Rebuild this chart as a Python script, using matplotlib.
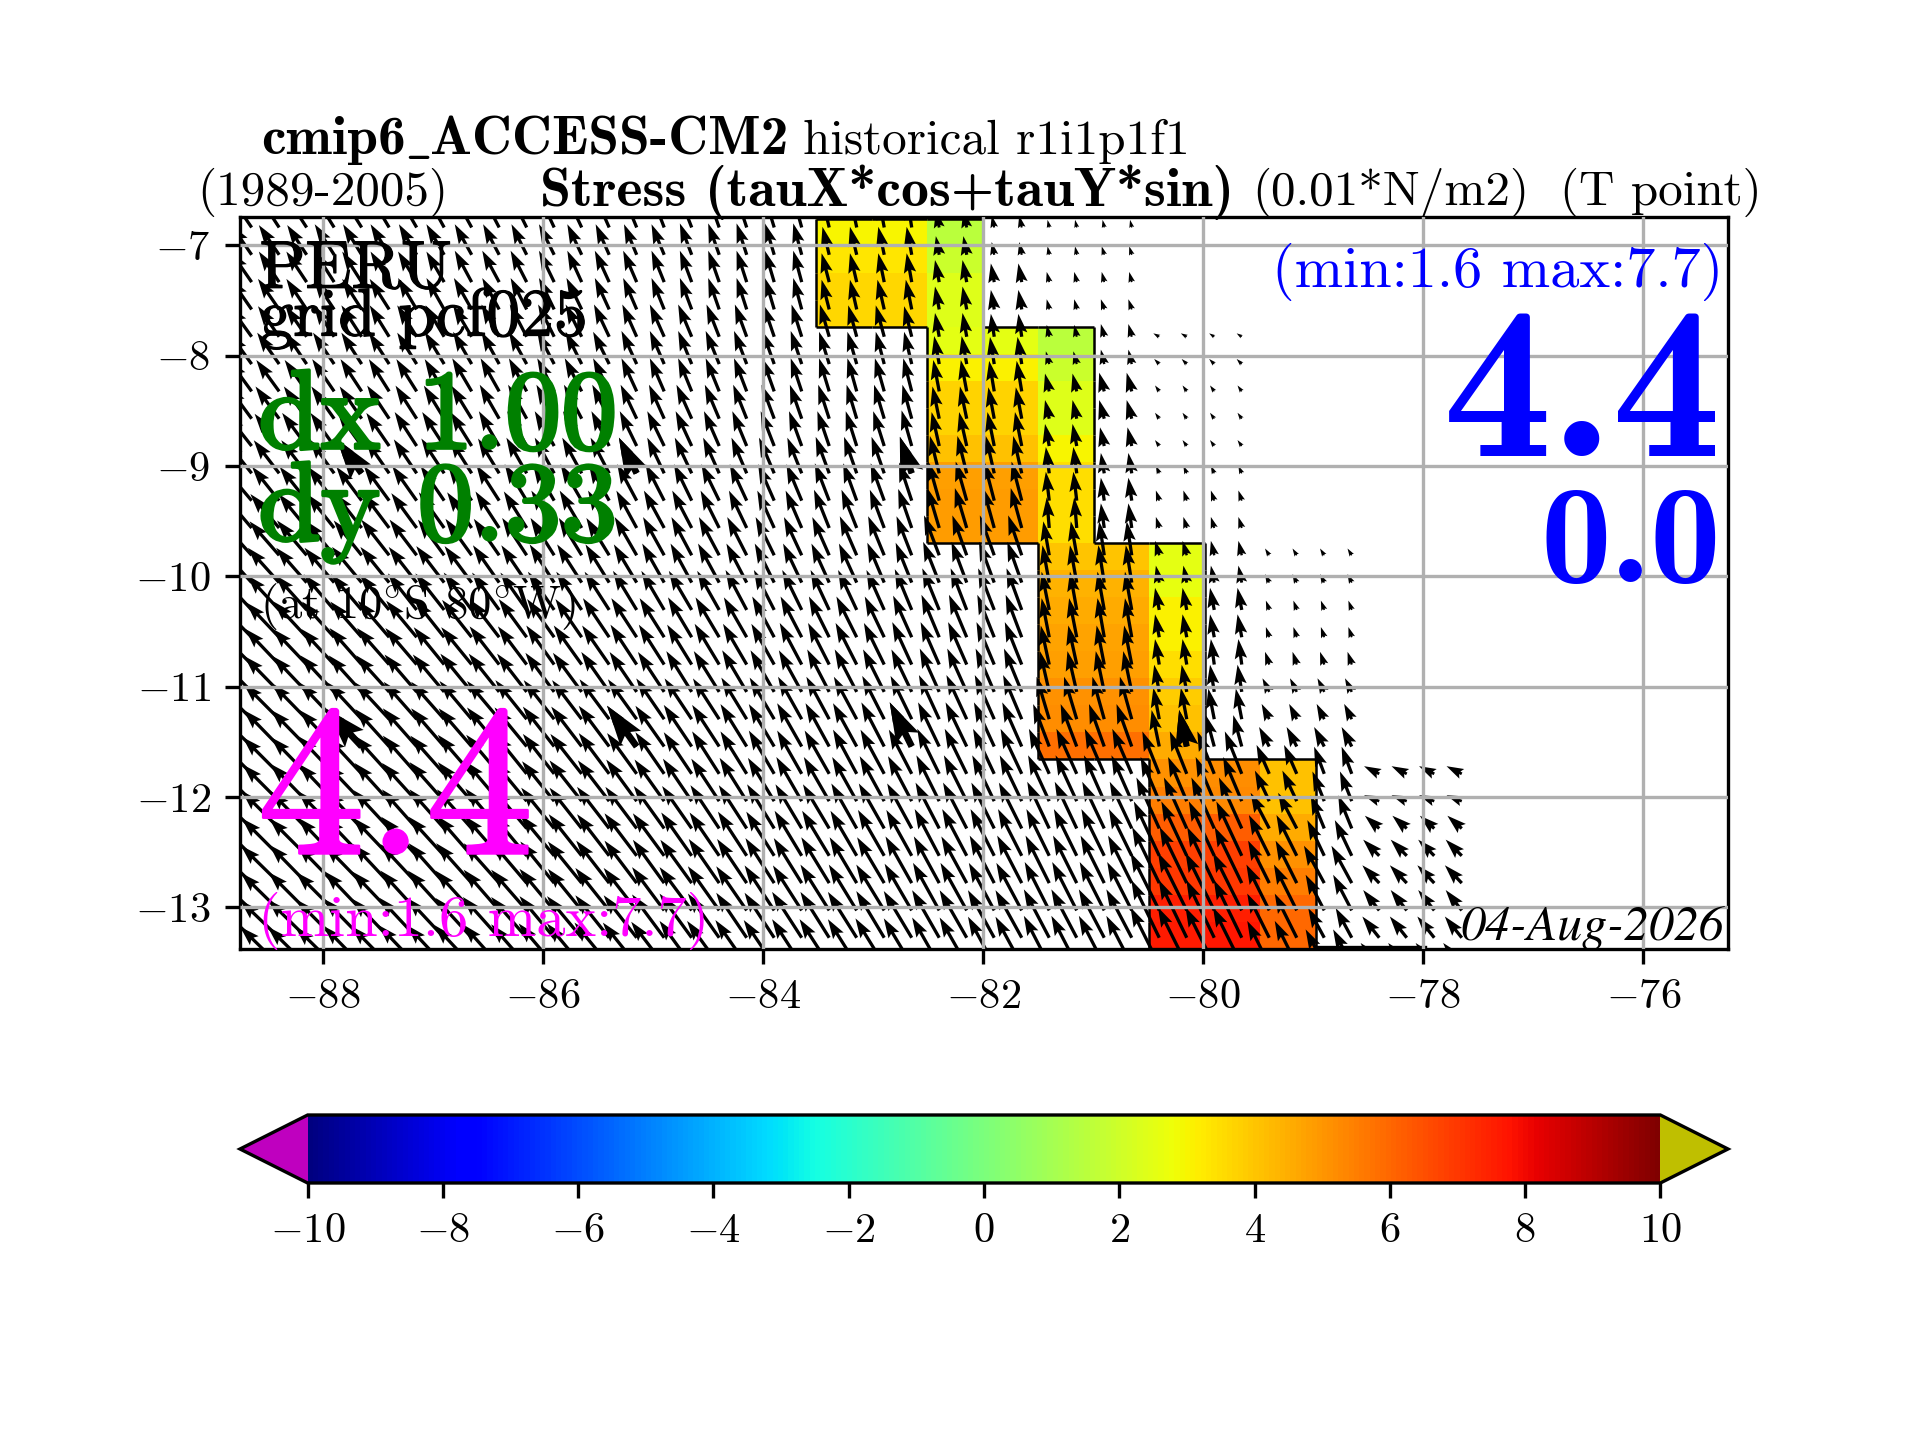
import numpy as np
import matplotlib
matplotlib.use('Agg')
import matplotlib.pyplot as plt
import matplotlib.patheffects as pe
from matplotlib.collections import LineCollection

plt.rcParams['font.family'] = 'cmr10'
plt.rcParams['mathtext.fontset'] = 'cm'
plt.rcParams['axes.formatter.use_mathtext'] = True

xtick_vals = [-88, -86, -84, -82, -80, -78, -76]
xtick_labels = ['$-88$', '$-86$', '$-84$', '$-82$', '$-80$', '$-78$', '$-76$']
ytick_vals = [-13, -12, -11, -10, -9, -8, -7]
ytick_labels = ['$-13$', '$-12$', '$-11$', '$-10$', '$-9$', '$-8$', '$-7$']
cbar_vals = [-10, -8, -6, -4, -2, 0, 2, 4, 6, 8, 10]
cbar_labels = ['$-10$', '$-8$', '$-6$', '$-4$', '$-2$', '$0$', '$2$', '$4$', '$6$', '$8$', '$10$']

# stress values on the coastal band, one list per 0.5 degree column, north to south
n = np.nan
stress_col0 = [3.0, 3.3, 3.6, 3.6] + [n] * 23
stress_col1 = [3.0, 3.3, 3.6, 3.6] + [n] * 23
stress_col2 = [1.5, 1.9, 2.4, 2.4, 2.5, 3.1, 3.7, 3.7, 4.1, 4.8, 4.9, 4.9] + [n] * 15
stress_col3 = [n] * 4 + [2.5, 3.1, 3.7, 3.7, 4.1, 4.8, 4.9, 4.9] + [n] * 15
stress_col4 = [n] * 4 + [1.5, 1.9, 2.4, 2.4, 3.0, 3.5, 3.5, 3.5, 4.0, 4.4, 4.6, 4.7, 4.8, 5.1, 5.2, 5.8] + [n] * 7
stress_col5 = [n] * 12 + [4.0, 4.4, 4.6, 4.7, 4.8, 5.1, 5.2, 5.8] + [n] * 7
stress_col6 = [n] * 12 + [2.5, 2.6, 3.1, 3.1, 3.5, 3.9, 4.1, 4.6, 5.1, 5.5, 6.2, 6.8, 7.0, 7.5, 7.6]
stress_col7 = [n] * 20 + [5.2, 5.3, 6.2, 6.8, 7.0, 7.5, 7.7]
stress_col8 = [n] * 20 + [4.1, 4.1, 4.6, 5.1, 5.5, 6.0, 6.0]

# wind stress components in tenths of a unit, one list per row, west to east
tau_x = [
 [-24,-23,-23,-22,-22,-21,-21,-20,-20,-19,-18,-17,-17,-16,-15,-14,-14,-13,-12,-11,-10,-8,-7,-6,-5,-4,-4,-3,-3,-2,-2,-2,-2],
 [-24,-24,-23,-23,-22,-22,-21,-21,-20,-19,-18,-18,-17,-16,-15,-15,-14,-13,-12,-11,-10,-8,-8,-7,-6,-4,-4,-3,-3,-2,-2,-3,-3],
 [-25,-24,-24,-23,-23,-22,-22,-21,-20,-20,-19,-18,-17,-17,-16,-15,-14,-13,-12,-11,-10,-9,-8,-7,-6,-5,-5,-4,-4,-3,-3,-3,-3],
 [-25,-25,-24,-24,-23,-23,-22,-21,-21,-20,-19,-18,-18,-17,-16,-15,-14,-13,-12,-11,-10,-9,-8,-8,-7,-5,-5,-4,-4,-3,-3,-4,-4],
 [-26,-25,-25,-24,-24,-23,-23,-22,-22,-21,-20,-19,-19,-18,-17,-17,-16,-15,-14,-13,-12,-11,-10,-10,-9,-5,-5,-4,-4,-3,-3,-4,-4,-7,-7,-6,-6],
 [-26,-26,-25,-25,-24,-24,-23,-23,-22,-21,-21,-20,-19,-19,-18,-17,-16,-16,-15,-14,-13,-12,-11,-10,-9,-6,-6,-5,-5,-4,-4,-4,-4,-6,-6,-6,-6],
 [-27,-27,-26,-26,-25,-24,-24,-23,-23,-22,-21,-20,-20,-19,-18,-17,-16,-16,-15,-14,-13,-12,-11,-11,-10,-7,-7,-6,-6,-5,-5,-6,-6,-5,-5,-5,-5],
 [-28,-28,-27,-27,-26,-26,-25,-24,-24,-23,-22,-21,-21,-20,-19,-18,-18,-17,-16,-15,-14,-13,-12,-12,-11,-8,-8,-7,-7,-5,-5,-6,-6,-5,-5,-5,-5],
 [-30,-29,-29,-28,-28,-27,-26,-26,-25,-24,-23,-23,-22,-21,-20,-20,-19,-18,-17,-16,-15,-14,-13,-13,-12,-9,-9,-8,-8,-5,-5,-5,-5,-5,-5,-5,-5],
 [-31,-30,-30,-29,-29,-28,-27,-27,-26,-25,-24,-23,-23,-22,-21,-20,-20,-19,-18,-18,-17,-16,-15,-15,-14,-11,-11,-10,-10,-4,-4,-4,-4,-4,-4,-4,-4],
 [-33,-32,-32,-31,-30,-30,-29,-28,-28,-27,-26,-25,-25,-24,-23,-22,-21,-21,-20,-19,-18,-17,-16,-16,-15,-13,-13,-12,-12,-4,-4,-4,-4,-4,-4,-4,-4],
 [-34,-34,-33,-32,-32,-31,-30,-30,-29,-28,-27,-27,-26,-25,-24,-24,-23,-22,-21,-20,-19,-18,-18,-17,-16,-14,-14,-13,-13,-3,-3,-4,-4,-4,-4,-4,-4],
 [-36,-35,-35,-34,-33,-33,-32,-31,-31,-30,-29,-28,-27,-27,-26,-25,-24,-24,-23,-22,-21,-20,-20,-19,-18,-18,-17,-17,-16,-7,-7,-6,-6,-5,-5,-4,-4,-5,-5,-5,-5],
 [-37,-37,-36,-35,-35,-34,-33,-33,-32,-31,-30,-29,-29,-28,-27,-26,-25,-25,-24,-23,-22,-21,-21,-20,-19,-19,-18,-18,-17,-8,-8,-7,-7,-4,-4,-4,-4,-5,-5,-5,-5],
 [-38,-38,-37,-36,-36,-35,-34,-34,-33,-32,-31,-31,-30,-29,-28,-27,-27,-26,-25,-24,-23,-22,-22,-21,-20,-20,-19,-19,-18,-9,-8,-8,-8,-5,-5,-5,-5,-4,-4,-4,-4],
 [-40,-39,-39,-38,-37,-37,-36,-35,-35,-34,-33,-32,-31,-31,-30,-29,-28,-28,-27,-26,-25,-24,-24,-23,-22,-21,-21,-20,-19,-9,-9,-8,-8,-5,-5,-5,-5,-4,-4,-4,-4],
 [-41,-40,-40,-39,-38,-38,-37,-36,-36,-35,-34,-33,-33,-32,-31,-30,-29,-29,-28,-27,-26,-25,-25,-24,-23,-22,-22,-21,-20,-10,-10,-9,-9,-5,-5,-4,-4,-5,-5,-5,-5],
 [-41,-41,-40,-40,-39,-39,-38,-37,-37,-36,-35,-34,-34,-33,-32,-31,-30,-30,-29,-28,-27,-26,-26,-25,-24,-23,-23,-22,-21,-11,-11,-10,-10,-6,-6,-5,-5,-8,-8,-8,-8],
 [-42,-42,-41,-41,-40,-40,-39,-39,-38,-38,-37,-36,-35,-35,-34,-33,-32,-31,-30,-29,-28,-27,-27,-26,-25,-24,-24,-23,-22,-15,-15,-14,-14,-7,-7,-7,-7,-9,-9,-9,-9],
 [-43,-42,-42,-41,-41,-40,-40,-39,-39,-38,-38,-37,-36,-36,-35,-34,-33,-32,-31,-30,-29,-28,-28,-27,-26,-25,-25,-24,-23,-19,-19,-18,-18,-9,-9,-10,-10,-12,-12,-12,-12],
 [-43,-43,-42,-42,-41,-41,-40,-40,-40,-39,-38,-37,-37,-36,-35,-34,-33,-32,-31,-30,-29,-29,-28,-28,-27,-26,-26,-25,-25,-24,-24,-23,-23,-20,-20,-20,-20,-15,-15,-12,-12,-18,-18,-18,-18],
 [-43,-43,-43,-42,-42,-41,-41,-41,-40,-40,-39,-38,-38,-37,-36,-35,-34,-33,-32,-31,-30,-30,-29,-29,-28,-27,-27,-26,-26,-25,-25,-24,-24,-22,-22,-22,-22,-17,-17,-14,-14,-18,-18,-18,-18],
 [-44,-44,-43,-43,-42,-42,-41,-41,-41,-40,-40,-39,-38,-38,-37,-36,-35,-34,-33,-32,-31,-31,-30,-30,-29,-28,-28,-27,-27,-26,-26,-26,-26,-27,-27,-27,-27,-22,-22,-16,-16,-17,-17,-17,-17],
 [-44,-44,-44,-43,-43,-43,-42,-42,-41,-41,-40,-40,-39,-38,-38,-37,-36,-35,-34,-33,-32,-32,-31,-31,-30,-29,-29,-28,-28,-27,-27,-27,-27,-30,-30,-30,-30,-24,-24,-20,-20,-19,-19,-19,-19],
 [-45,-45,-44,-44,-44,-43,-43,-42,-42,-42,-41,-40,-40,-39,-38,-37,-37,-36,-35,-34,-33,-33,-32,-32,-31,-30,-30,-29,-29,-28,-28,-28,-28,-32,-32,-32,-32,-25,-25,-24,-24,-20,-20,-20,-20],
 [-46,-45,-45,-45,-44,-44,-43,-43,-43,-42,-42,-41,-40,-40,-39,-38,-38,-37,-36,-35,-34,-34,-33,-33,-32,-31,-31,-30,-30,-29,-29,-29,-29,-34,-34,-34,-34,-27,-27,-22,-22,-19,-19,-19,-19],
 [-46,-46,-46,-45,-45,-44,-44,-44,-43,-43,-42,-41,-41,-40,-39,-38,-38,-37,-36,-35,-35,-34,-34,-33,-33,-32,-32,-31,-31,-30,-30,-30,-30,-33,-33,-33,-33,-26,-26,-19,-19,-20,-20,-20,-20],
 [-47,-46,-46,-46,-45,-45,-45,-44,-44,-43,-42,-42,-41,-41,-40,-39,-38,-38,-37,-36,-35,-35,-34,-34,-33,-32,-32,-31,-31,-30,-30,-30,-30,-34,-34,-34,-34,-26,-26,-22,-22,-22,-22,-22,-22],
]
tau_y = [
 [35,35,35,35,35,35,36,36,36,36,36,36,36,36,36,36,36,36,36,36,36,33,33,32,32,20,20,14,14,9,9,9,9],
 [35,35,35,36,36,36,36,36,36,36,36,36,36,36,36,36,37,37,37,37,37,33,33,33,33,22,22,15,15,10,10,10,10],
 [36,36,36,36,36,36,36,36,37,37,37,37,37,37,37,37,37,37,37,37,37,34,34,34,34,26,26,22,22,12,12,12,12],
 [36,36,36,36,36,36,37,37,37,37,37,37,37,37,37,37,37,37,37,37,37,35,35,35,35,27,27,23,23,12,12,12,12],
 [36,36,36,37,37,37,37,37,37,38,38,38,38,38,38,38,38,38,38,38,38,38,37,37,36,28,28,27,27,14,14,15,15,4,4,4,4],
 [36,37,37,37,37,37,37,38,38,38,38,38,38,38,39,39,39,39,39,39,39,38,38,38,38,33,33,32,32,15,15,17,17,6,6,6,6],
 [37,37,37,38,38,38,38,38,39,39,39,39,39,39,39,39,39,39,39,39,39,39,39,39,39,37,37,36,36,21,21,22,22,7,7,7,7],
 [38,38,38,38,38,39,39,39,39,40,40,40,40,40,40,40,40,40,40,40,40,40,40,40,40,38,38,37,37,22,22,22,22,7,7,7,7],
 [38,38,39,39,39,39,40,40,40,41,41,41,41,41,41,41,41,41,41,41,41,41,41,41,42,40,40,40,40,26,26,22,22,7,7,7,7],
 [39,39,39,40,40,40,40,41,41,41,42,42,42,42,42,42,42,42,42,42,42,43,43,43,43,44,44,44,44,31,31,24,24,9,9,9,9],
 [39,40,40,40,40,41,41,41,42,42,43,43,43,43,43,43,43,43,43,43,43,44,44,44,45,46,46,46,46,34,34,27,27,12,12,12,12],
 [40,40,40,40,41,41,41,42,42,43,43,44,44,44,44,44,44,44,44,44,44,45,45,45,46,47,47,47,47,36,36,29,29,13,13,13,13],
 [40,40,41,41,41,42,42,42,43,43,44,44,44,44,45,45,45,45,45,45,45,45,46,46,46,47,47,47,47,40,40,40,40,17,17,17,17,8,8,8,8],
 [41,41,41,41,42,42,42,43,43,44,44,45,45,45,45,46,46,46,46,46,46,46,46,47,47,48,48,48,48,44,44,44,44,20,20,20,20,10,10,10,10],
 [41,41,41,42,42,42,43,43,44,44,44,45,45,45,46,46,46,46,47,47,47,47,47,47,48,49,49,49,49,45,45,45,45,26,26,26,26,11,11,11,11],
 [41,41,42,42,42,43,43,44,44,44,45,45,45,46,46,46,47,47,47,48,48,48,48,48,49,50,50,50,50,46,46,46,46,27,27,27,27,12,12,12,12],
 [41,42,42,42,43,43,43,44,44,45,45,46,46,46,47,47,47,48,48,48,49,49,49,49,50,50,50,50,50,46,46,46,46,30,30,30,30,15,15,15,15],
 [42,42,42,43,43,43,44,44,45,45,45,46,46,47,47,47,48,48,49,49,49,50,50,50,50,51,51,51,51,48,48,48,48,32,32,32,32,16,16,16,16],
 [42,42,42,43,43,43,44,44,45,45,46,46,46,47,47,48,48,48,49,49,50,50,50,51,51,52,52,52,52,50,50,50,50,37,37,36,36,18,18,18,18],
 [42,43,43,43,44,44,45,45,45,46,46,47,47,48,48,48,49,49,50,50,51,51,51,52,52,52,52,52,52,50,50,50,50,43,43,37,37,23,23,23,23],
 [43,43,43,44,44,45,45,45,46,46,47,47,47,48,48,49,49,50,50,51,51,51,52,52,52,53,53,53,53,53,53,53,53,50,50,50,50,34,34,32,32,9,9,9,9],
 [43,43,44,44,44,45,45,46,46,47,47,47,48,48,49,49,50,50,51,51,52,52,52,53,53,54,54,54,54,54,54,54,54,52,52,52,52,36,36,35,35,7,7,7,7],
 [43,44,44,44,45,45,46,46,46,47,47,48,48,49,49,50,50,51,51,52,52,52,53,53,53,54,54,54,54,55,55,55,55,60,60,60,60,42,42,39,39,15,15,15,15],
 [44,44,44,45,45,45,46,46,47,47,48,48,49,49,50,50,51,51,52,52,53,53,53,54,54,55,55,55,55,55,55,55,55,64,64,64,64,48,48,42,42,19,19,19,19],
 [44,44,45,45,45,46,46,47,47,47,48,49,49,50,50,51,51,52,52,53,53,54,54,54,55,55,55,56,56,56,56,56,56,66,66,66,66,50,50,44,44,21,21,21,21],
 [44,44,45,45,46,46,47,47,47,48,48,49,49,50,50,51,51,52,52,53,53,54,54,54,55,56,56,56,56,57,57,57,57,68,68,68,68,54,54,42,42,24,24,24,24],
 [44,44,45,45,46,46,47,47,47,48,48,49,49,50,50,51,52,52,53,53,54,54,54,55,55,56,56,56,56,57,57,57,57,68,68,68,68,52,52,35,35,25,25,25,25],
 [44,45,45,45,46,46,47,47,47,48,48,49,49,50,50,51,52,52,53,53,54,54,54,55,55,56,56,57,57,58,58,58,58,68,68,68,68,52,52,42,42,26,26,26,26],
]

# (row, column) of the arrows that were drawn heavier
heavy_arrows = [(9, 4), (9, 14), (9, 24), (19, 4), (19, 14), (19, 24), (19, 34)]

# stray piece of the mask contour along the south edge
shelf_x = [-78.98, -77.98]
shelf_y = [-13.36, -13.36]

stress = np.array([stress_col0, stress_col1, stress_col2, stress_col3, stress_col4,
                   stress_col5, stress_col6, stress_col7, stress_col8]).T
cell_x = -83.52 + 0.505 * np.arange(stress.shape[1] + 1)
cell_y = -6.76 - 0.245 * np.arange(stress.shape[0] + 1)

# arrow positions
xs, ys, us, vs = [], [], [], []
hx, hy, hu, hv = [], [], [], []
for r, (row_u, row_v) in enumerate(zip(tau_x, tau_y)):
    for c, (a, b) in enumerate(zip(row_u, row_v)):
        x0 = -88.65 + 0.25 * c
        y0 = -6.84 - 0.2475 * r
        xs.append(x0)
        ys.append(y0)
        us.append(a / 10)
        vs.append(b / 10)
        if (r, c) in heavy_arrows:
            hx.append(x0)
            hy.append(y0)
            hu.append(a / 10)
            hv.append(b / 10)

cmap = plt.get_cmap('jet').with_extremes(under='m', over='y')

fig = plt.figure(figsize=(6.4, 4.8), dpi=300)
ax = fig.add_axes([240 / 1920, 1 - 949 / 1440, 1488 / 1920, 732 / 1440])
im = ax.pcolormesh(cell_x, cell_y, np.ma.masked_invalid(stress), cmap=cmap, vmin=-10, vmax=10, zorder=1)

# outline of the coastal band, taken from the edge of the mask
segs = []
nrow, ncol = stress.shape
for i in range(nrow):
    for j in range(ncol):
        if np.isnan(stress[i, j]):
            continue
        if i == 0 or np.isnan(stress[i - 1, j]):
            segs.append([(cell_x[j], cell_y[i]), (cell_x[j + 1], cell_y[i])])
        if i == nrow - 1 or np.isnan(stress[i + 1, j]):
            segs.append([(cell_x[j], cell_y[i + 1]), (cell_x[j + 1], cell_y[i + 1])])
        if j == 0 or np.isnan(stress[i, j - 1]):
            segs.append([(cell_x[j], cell_y[i]), (cell_x[j], cell_y[i + 1])])
        if j == ncol - 1 or np.isnan(stress[i, j + 1]):
            segs.append([(cell_x[j + 1], cell_y[i]), (cell_x[j + 1], cell_y[i + 1])])
ax.add_collection(LineCollection(segs, colors='k', linewidths=0.6, zorder=1.5))
ax.plot(shelf_x, shelf_y, color='k', linewidth=0.8, zorder=1.5)

ax.quiver(xs, ys, us, vs, angles='xy', scale_units='xy', scale=13, width=0.0022,
          headwidth=3.8, headlength=6, headaxislength=5.2, zorder=2)
ax.quiver(hx, hy, hu, hv, angles='xy', scale_units='xy', scale=13, width=0.0045,
          headwidth=3.8, headlength=6, headaxislength=5.2, zorder=2)

ax.set_xlim(-88.756, -75.23)
ax.set_ylim(-13.377, -6.745)
ax.set_xticks(xtick_vals)
ax.set_xticklabels(xtick_labels)
ax.set_yticks(ytick_vals)
ax.set_yticklabels(ytick_labels)
ax.tick_params(labelsize=10.2)
ax.grid(True)
ax.set_axisbelow(False)

cax = fig.add_axes([240 / 1920, 1 - 1183 / 1440, 1488 / 1920, 68 / 1440])
cb = fig.colorbar(im, cax=cax, orientation='horizontal', extend='both')
cb.set_ticks(cbar_vals)
cb.set_ticklabels(cbar_labels)
cb.ax.tick_params(labelsize=10.2)


# positions below are in the 1568 x 1176 view of the figure
def label(x, y, s, heavier=0, **kw):
    t = fig.text(x / 1568, 1 - y / 1176, s, **kw)
    if heavier:
        t.set_path_effects([pe.withStroke(linewidth=heavier, foreground=kw.get('color', 'k'))])


label(213, 126, 'cmip6', family='cmb10', fontsize=13.3)
label(331, 126, r'$\_$', fontsize=12)
label(351, 126, 'ACCESS-CM2', family='cmb10', fontsize=13.3)
label(656, 126, 'historical r1i1p1f1', fontsize=11.8)
label(161, 167, '(1989-2005)', fontsize=11.8)
label(441, 168, 'Stress (tauX*cos+tauY*sin)', family='cmb10', fontsize=13.4)
label(1023, 167, '(0.01*N/m2)', fontsize=11.8)
label(1274, 167, '(T point)', fontsize=11.8)

label(212, 235, 'PERU', fontsize=16.2, heavier=0.3)
label(212, 274, 'grid pcf025', fontsize=16.2, heavier=0.3)
label(211, 366, 'dx 1.00', fontsize=27, color='g', heavier=0.8)
label(211, 441, 'dy 0.33', fontsize=27, color='g', heavier=0.8)
label(212, 505, r'(at 10$^{\circ}$S 80$^{\circ}$W)', fontsize=11.2)
label(210, 697, '4.4', fontsize=52, color='magenta', heavier=0.6)
label(211, 764, '(min:1.6 max:7.7)', fontsize=14, color='magenta')

label(1407, 234, '(min:1.6 max:7.7)', fontsize=14, color='b', ha='right')
label(1406, 372, '4.4', family='cmb10', fontsize=52.5, color='b', ha='right')
label(1406, 475, '0.0', family='cmb10', fontsize=34, color='b', ha='right')

label(1408, 768, '04-Aug-2026', family='STIXGeneral', style='italic', fontsize=12, ha='right')

fig.savefig('out.png', dpi=300)
